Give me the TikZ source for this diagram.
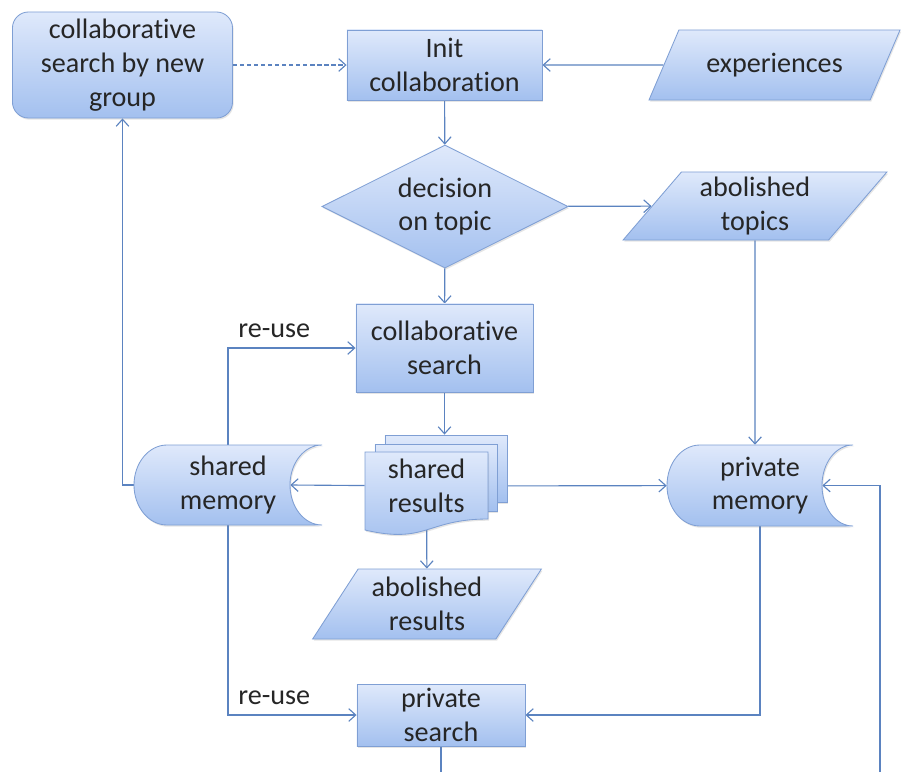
\documentclass[tikz,border=0pt]{standalone}
\usepackage{fontspec}
\setmainfont{Carlito}[Ligatures=NoCommon]
\usepackage{tikz}
\usetikzlibrary{shapes.geometric, arrows.meta, positioning, backgrounds, calc, shadows}
\pgfdeclarelayer{arrows}
\pgfsetlayers{background,arrows,main}
\definecolor{lineblue}{HTML}{5B83C0}
\definecolor{edgeblue}{HTML}{7F9FD4}
\definecolor{filltop}{HTML}{DFE9FB}
\definecolor{fillbot}{HTML}{A3C0EF}
\definecolor{inkgray}{HTML}{262626}
\tikzset{
  boxfill/.style={draw=edgeblue, line width=0.6pt, top color=filltop, bottom color=fillbot,
    drop shadow={opacity=0.2, shadow xshift=0.8pt, shadow yshift=-1.2pt}},
  txt/.style={font=\fontsize{20}{24}\selectfont, text=inkgray, align=center, inner sep=2pt},
  proc/.style={rectangle, boxfill, txt},
  proc/round/.style={rectangle, rounded corners=0.4cm, boxfill, txt},
  dec/.style={diamond, aspect=2, boxfill, txt, inner sep=0pt},
  data/.style={trapezium, trapezium left angle=54, trapezium right angle=126,
    trapezium stretches=true, boxfill, txt},
  page/.style={rectangle, boxfill, minimum width=3.05cm, minimum height=1.675cm, inner sep=0pt},
  plain/.style={txt},
  ar/.style={-{Straight Barb[length=5pt,width=9pt]}, draw=lineblue, line width=0.8pt},
  lb/.style={txt, inner sep=7pt},
}
\begin{document}
\begin{tikzpicture}[x=0.025cm, y=-0.025cm]
\begin{pgfonlayer}{background}
\fill[white] (0,0) rectangle (902,772);
\end{pgfonlayer}
\useasboundingbox (0,0) rectangle (902,772);

% top row
\node[proc/round, minimum width=5.5cm, minimum height=2.65cm] (newgrp) at (122.5,65) {collaborative\\search by new\\group};
\node[proc, minimum width=4.875cm, minimum height=1.75cm] (init) at (444.5,65) {Init\\collaboration};
\node[data, trapezium left angle=53, trapezium right angle=127,
      minimum width=6.275cm, minimum height=1.75cm] (exper) at (774.5,65) {experiences};

% decision
\node[dec, minimum width=6.15cm, minimum height=3.075cm] (decide) at (445,206.5) {decision\\on topic};
\node[data, minimum width=6.6cm, minimum height=1.7cm] (topics) at (755,206) {abolished\\topics};

\node[proc, minimum width=4.425cm, minimum height=2.2cm] (colsrch) at (444.5,348) {collaborative\\search};

% shared memory (stored data)
\path[boxfill] (167,445) -- (322,445) .. controls (304.3,445) and (290,462.9) .. (290,485)
  .. controls (290,507.1) and (304.3,525) .. (322,525) -- (167,525)
  .. controls (148.8,525) and (134,507.1) .. (134,485)
  .. controls (134,462.9) and (148.8,445) .. (167,445) -- cycle;
\node[plain, minimum width=4.7cm, minimum height=2cm] (shmem) at (228,485) {shared\\memory};

% shared results (stack of pages)
\node[page] (page3) at (446,468.5) {};
\node[page] (page2) at (436,477.5) {};
\path[boxfill] (365,452) -- (488,452) -- (488,519) .. controls (426.5,519) and (426.5,544.4) .. (365,530) -- cycle;
\node[plain, minimum width=3.075cm, minimum height=1.7cm] (shres) at (426.5,486) {shared\\results};

% private memory (stored data)
\path[boxfill] (700,445) -- (853,445) .. controls (835.9,445) and (822,462.9) .. (822,485.5)
  .. controls (822,508.1) and (835.9,526) .. (853,526) -- (700,526)
  .. controls (681.8,526) and (667,508.1) .. (667,485.5)
  .. controls (667,462.9) and (681.8,445) .. (700,445) -- cycle;
\node[plain, minimum width=4.65cm, minimum height=2.025cm] (prmem) at (760,485.5) {private\\memory};

\node[data, trapezium left angle=57, trapezium right angle=123,
      minimum width=5.725cm, minimum height=1.75cm] (abres) at (427,604) {abolished\\results};
\node[proc, minimum width=4.2cm, minimum height=1.55cm] (prsrch) at (441,715) {private\\search};

\coordinate (loopin) at (880,772);
\coordinate (exit) at (441,772);

\begin{pgfonlayer}{arrows}
\draw[ar, dash pattern=on 3pt off 2pt] (newgrp) -- (init);
\draw[ar] (exper) -- (init);
\draw[ar] (init) -- (decide);
\draw[ar] (decide) -- (topics);
\draw[ar] (decide) -- (colsrch);
\draw[ar] (colsrch) -- (colsrch |- page3.north);
\draw[ar] (shres) -- ($(shmem.east)+(-32,0)$);
\draw[ar] (shres) -- (prmem);
\draw[ar] (shres) -- (abres);
\draw[ar] (shmem.north) |- node[lb, above right, pos=0.5] {re-use} (colsrch.west);
\draw[ar] (shmem.south) |- node[lb, above right, pos=0.5] {re-use} (prsrch.west);
\draw[ar] (shmem.west) -| (newgrp.south);
\draw[ar] (topics) -- (topics |- prmem.north);
\draw[ar] (prmem.south) |- (prsrch.east);
\draw[ar] (loopin) |- ($(prmem.east)+(-31,0)$);
\draw[ar, -] (prsrch) -- (exit);
\end{pgfonlayer}
\end{tikzpicture}
\end{document}
